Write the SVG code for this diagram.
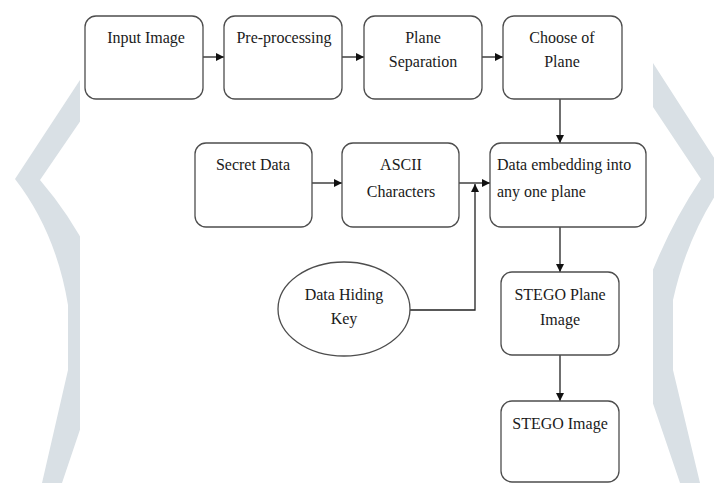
<svg xmlns="http://www.w3.org/2000/svg" width="714" height="483" viewBox="0 0 714 483">
<defs>
<style>
.band{fill:#d9e0e5;stroke:none}
.box{fill:#ffffff;stroke:#4d4d4d;stroke-width:1.3}
.t{font-family:"Liberation Serif","Times New Roman",serif;font-size:16px;fill:#1a1a1a}
.c{text-anchor:middle}
.ln{fill:none;stroke:#222222;stroke-width:1.3}
</style>
<marker id="ah" viewBox="0 0 10 10" refX="10" refY="5" markerWidth="8" markerHeight="8" orient="auto" markerUnits="userSpaceOnUse">
<path d="M0,0 L10,5 L0,10 Z" fill="#111111"/>
</marker>
</defs>
<rect x="0" y="0" width="714" height="483" fill="#ffffff"/>
<g id="background">
<path class="band" d="M80,80 L15,179 Q56,232 68,305 L68,370 L42,483 L62,483 L90,400 L90,255 Q70,215 40,180 L92,104 Z"/>
<path class="band" d="M653,63 L727,178 Q688,232 673,300 L673,370 L700,483 L680,483 L645,380 L645,290 Q668,228 701,179 L645,95 Z"/>
<rect x="80" y="0" width="573" height="483" fill="#ffffff"/>
</g>
<g id="connectors">
<line class="ln" x1="203" y1="57" x2="224" y2="57" marker-end="url(#ah)"/>
<line class="ln" x1="342" y1="57" x2="364" y2="57" marker-end="url(#ah)"/>
<line class="ln" x1="482" y1="57" x2="503" y2="57" marker-end="url(#ah)"/>
<line class="ln" x1="560" y1="99" x2="560" y2="143" marker-end="url(#ah)"/>
<line class="ln" x1="312" y1="183" x2="342" y2="183" marker-end="url(#ah)"/>
<line class="ln" x1="459" y1="183" x2="490" y2="183" marker-end="url(#ah)"/>
<polyline class="ln" points="410,310 475,310 475,184" marker-end="url(#ah)"/>
<line class="ln" x1="560" y1="227" x2="560" y2="272" marker-end="url(#ah)"/>
<line class="ln" x1="560" y1="355" x2="560" y2="401" marker-end="url(#ah)"/>
</g>
<g id="input-image">
<rect class="box" x="85" y="16" width="118" height="83" rx="11"/>
<text class="t c" x="146" y="43">Input Image</text>
</g>
<g id="pre-processing">
<rect class="box" x="224" y="16" width="118" height="83" rx="11"/>
<text class="t c" x="284" y="43">Pre-processing</text>
</g>
<g id="plane-separation">
<rect class="box" x="364" y="16" width="118" height="83" rx="11"/>
<text class="t c" x="423" y="43">Plane</text>
<text class="t c" x="423" y="67">Separation</text>
</g>
<g id="choose-of-plane">
<rect class="box" x="503" y="16" width="119" height="83" rx="11"/>
<text class="t c" x="562" y="43">Choose of</text>
<text class="t c" x="562" y="67">Plane</text>
</g>
<g id="secret-data">
<rect class="box" x="195" y="143" width="117" height="84" rx="11"/>
<text class="t c" x="253" y="170">Secret Data</text>
</g>
<g id="ascii-characters">
<rect class="box" x="342" y="143" width="117" height="84" rx="11"/>
<text class="t c" x="401" y="170">ASCII</text>
<text class="t c" x="401" y="197">Characters</text>
</g>
<g id="data-embedding">
<rect class="box" x="490" y="143" width="156" height="84" rx="11"/>
<text class="t" x="497" y="170">Data embedding into</text>
<text class="t" x="497" y="197">any one plane</text>
</g>
<g id="data-hiding-key">
<ellipse class="box" cx="344" cy="309" rx="66" ry="47"/>
<text class="t c" x="344" y="300">Data Hiding</text>
<text class="t c" x="344" y="324">Key</text>
</g>
<g id="stego-plane-image">
<rect class="box" x="501" y="272" width="118" height="83" rx="11"/>
<text class="t c" x="560" y="300">STEGO Plane</text>
<text class="t c" x="560" y="325">Image</text>
</g>
<g id="stego-image">
<rect class="box" x="501" y="401" width="118" height="81" rx="11"/>
<text class="t c" x="560" y="429">STEGO Image</text>
</g>
</svg>
